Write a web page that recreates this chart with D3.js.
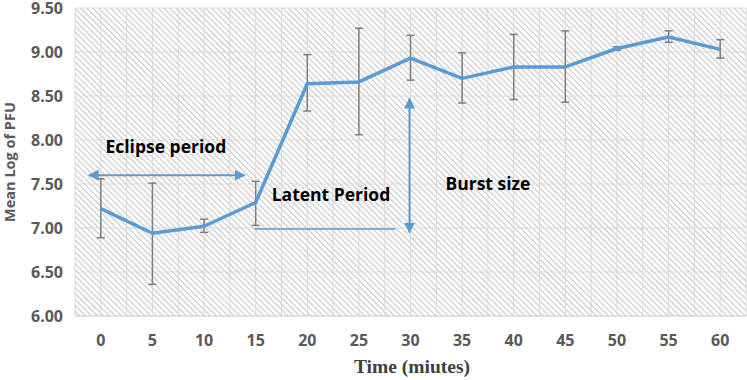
<!DOCTYPE html>
<html>
<head>
<meta charset="utf-8">
<script src="https://cdn.jsdelivr.net/npm/d3@7"></script>
<style>
  html, body { margin: 0; padding: 0; background: #fff; }
  svg { display: block; }
</style>
</head>
<body>
<svg id="chart" width="747" height="380"></svg>
<script>
// ---- data ----
const categories = ["0","5","10","15","20","25","30","35","40","45","50","55","60"];
const meanLog   = [7.22, 6.94, 7.02, 7.29, 8.64, 8.66, 8.93, 8.70, 8.83, 8.83, 9.04, 9.17, 9.03];
const errUpper  = [7.56, 7.51, 7.10, 7.53, 8.97, 9.27, 9.19, 8.99, 9.20, 9.24, 9.06, 9.24, 9.14];
const errLower  = [6.89, 6.36, 6.95, 7.03, 8.33, 8.06, 8.68, 8.42, 8.46, 8.43, 9.02, 9.11, 8.93];
const yTicks    = [6.0, 6.5, 7.0, 7.5, 8.0, 8.5, 9.0, 9.5];
const yTitle = "Mean Log of PFU";
const xTitle = "Time (miutes)";
const annotations = [
  { text: "Eclipse period", cat: "5",  offset: 0.76, value: 7.85 },
  { text: "Latent Period",  cat: "20", offset: 0.96, value: 7.31 },
  { text: "Burst size",     cat: "40", offset: 0.0,  value: 7.43 }
];
const eclipseArrow = { from: "0", to: "15", value: 7.60 };
const latentLine   = { from: "15", to: "30", value: 7.00 };
const burstArrow   = { at: "30", from: 6.95, to: 8.47 };

// ---- layout ----
const svg = d3.select("#chart");
const pLeft = 75, pRight = 746, pTop = 8, pBottom = 316;

const x = d3.scaleBand().domain(categories).range([pLeft, pRight]).padding(0);
const bw = x.bandwidth();
const cx = c => x(c) + bw / 2;
const y = d3.scaleLinear().domain([6, 9.5]).range([pBottom, pTop]);

const defs = svg.append("defs");
const pat = defs.append("pattern")
  .attr("id", "hatch").attr("patternUnits", "userSpaceOnUse")
  .attr("width", 4.2).attr("height", 10)
  .attr("patternTransform", "rotate(-45)");
pat.append("rect").attr("width", 4.2).attr("height", 10).attr("fill", "#ffffff");
pat.append("line").attr("x1", 1).attr("x2", 1).attr("y1", 0).attr("y2", 10)
  .attr("stroke", "#d0d0d0").attr("stroke-width", 1.4);

const mk = (id) => {
  const m = defs.append("marker").attr("id", id)
    .attr("viewBox", "0 0 10 10").attr("refX", 9).attr("refY", 5)
    .attr("markerWidth", 5.5).attr("markerHeight", 5.5)
    .attr("markerUnits", "strokeWidth").attr("orient", "auto-start-reverse");
  m.append("path").attr("d", "M0,0 L10,5 L0,10 Z").attr("fill", "#5B9BD5");
};
mk("arrow");

// plot background
svg.append("rect").attr("x", pLeft).attr("y", pTop)
  .attr("width", pRight - pLeft).attr("height", pBottom - pTop)
  .attr("fill", "url(#hatch)");

// vertical gridlines (category boundaries and centres)
const vLines = [];
categories.forEach(c => { vLines.push(x(c)); vLines.push(cx(c)); });
vLines.push(pRight);
svg.append("g").selectAll("line").data(vLines).join("line")
  .attr("x1", d => d).attr("x2", d => d).attr("y1", pTop).attr("y2", pBottom)
  .attr("stroke", "#d9d9d9").attr("stroke-width", 1);

// horizontal gridlines
svg.append("g").selectAll("line").data(yTicks).join("line")
  .attr("x1", pLeft).attr("x2", pRight)
  .attr("y1", d => y(d)).attr("y2", d => y(d))
  .attr("stroke", d => d === 6 ? "#c8c8c8" : "#d9d9d9").attr("stroke-width", 1);

// y tick labels
const yAxis = d3.axisLeft(y).tickValues(yTicks).tickFormat(d3.format(".2f")).tickSize(0).tickPadding(0);
const gy = svg.append("g").attr("transform", `translate(63,0)`).call(yAxis);
gy.select(".domain").remove();
gy.selectAll("text").attr("fill", "#595959")
  .style("font-family", "'Open Sans', sans-serif").style("font-weight", "bold").style("font-size", "16px");

// x tick labels
const xAxis = d3.axisBottom(x).tickSize(0).tickPadding(0);
const gx = svg.append("g").attr("transform", `translate(0,335)`).call(xAxis);
gx.select(".domain").remove();
gx.selectAll("text").attr("fill", "#595959")
  .style("font-family", "'Open Sans', sans-serif").style("font-weight", "bold").style("font-size", "16px");

// axis titles
svg.append("text").attr("transform", `translate(15,162) rotate(-90)`)
  .attr("text-anchor", "middle").attr("fill", "#595959")
  .style("font-family", "'Open Sans', sans-serif").style("font-weight", "bold").style("font-size", "14.5px")
  .text(yTitle);
svg.append("text").attr("x", 412).attr("y", 373)
  .attr("text-anchor", "middle").attr("fill", "#404040")
  .style("font-family", "'Liberation Serif', serif").style("font-weight", "bold").style("font-size", "19.5px")
  .text(xTitle);

// error bars
const eb = svg.append("g").attr("stroke", "#7f7f7f").attr("stroke-width", 1.5);
categories.forEach((c, i) => {
  const xc = cx(c);
  eb.append("line").attr("x1", xc).attr("x2", xc).attr("y1", y(errUpper[i])).attr("y2", y(errLower[i]));
  eb.append("line").attr("x1", xc - 4).attr("x2", xc + 4).attr("y1", y(errUpper[i])).attr("y2", y(errUpper[i]));
  eb.append("line").attr("x1", xc - 4).attr("x2", xc + 4).attr("y1", y(errLower[i])).attr("y2", y(errLower[i]));
});

// main line
const line = d3.line().x((d, i) => cx(categories[i])).y(d => y(d));
svg.append("path").datum(meanLog).attr("d", line)
  .attr("fill", "none").attr("stroke", "#5B9BD5").attr("stroke-width", 3.5)
  .attr("stroke-linejoin", "round");

// annotation shapes
svg.append("line")
  .attr("x1", cx(eclipseArrow.from) - 12).attr("x2", cx(eclipseArrow.to) - 11)
  .attr("y1", y(eclipseArrow.value)).attr("y2", y(eclipseArrow.value))
  .attr("stroke", "#5B9BD5").attr("stroke-width", 2)
  .attr("marker-start", "url(#arrow)").attr("marker-end", "url(#arrow)");
svg.append("line")
  .attr("x1", cx(latentLine.from) - 1).attr("x2", cx(latentLine.to) - 15)
  .attr("y1", y(latentLine.value) + 1).attr("y2", y(latentLine.value) + 1)
  .attr("stroke", "#5B9BD5").attr("stroke-width", 1.3);
svg.append("line")
  .attr("x1", cx(burstArrow.at) - 1).attr("x2", cx(burstArrow.at) - 1)
  .attr("y1", y(burstArrow.from)).attr("y2", y(burstArrow.to))
  .attr("stroke", "#5B9BD5").attr("stroke-width", 2)
  .attr("marker-start", "url(#arrow)").attr("marker-end", "url(#arrow)");

// annotation texts
svg.append("g").selectAll("text").data(annotations).join("text")
  .attr("x", d => x(d.cat) + bw * d.offset)
  .attr("y", d => y(d.value))
  .attr("text-anchor", "middle")
  .attr("fill", "#000")
  .style("font-family", "'Open Sans', sans-serif").style("font-weight", "bold").style("font-size", "17.5px")
  .text(d => d.text);
</script>
</body>
</html>
